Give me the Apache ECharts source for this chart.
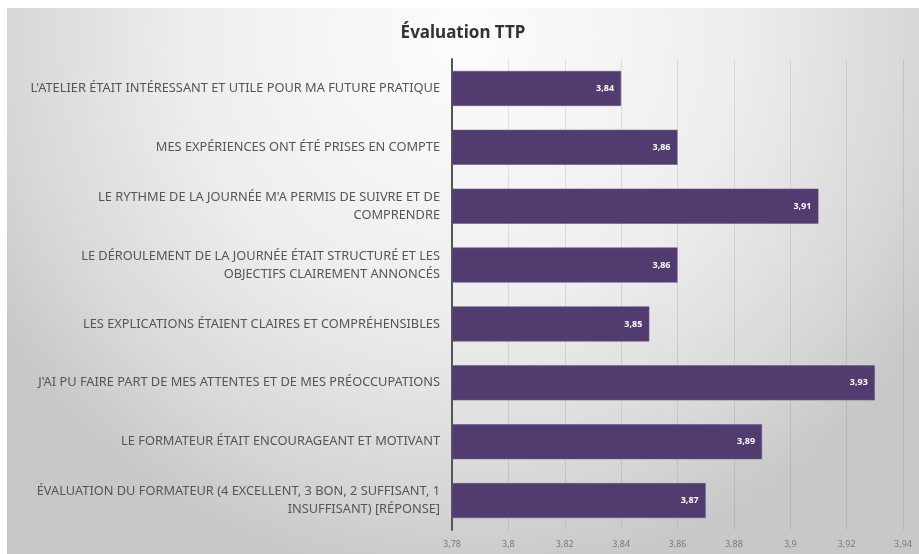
<!DOCTYPE html>
<html>
<head>
<meta charset="utf-8">
<script src="https://cdn.jsdelivr.net/npm/echarts@6/dist/echarts.min.js"></script>
<style>
  html, body { margin: 0; padding: 0; background: #ffffff; }
  #chart { position: absolute; left: 7px; top: 8px; width: 912px; height: 546px; }
</style>
</head>
<body>
<div id="chart"></div>
<script>
// questions (top to bottom)
var categories = [
  "L'ATELIER ÉTAIT INTÉRESSANT ET UTILE POUR MA FUTURE PRATIQUE",
  "MES EXPÉRIENCES ONT ÉTÉ PRISES EN COMPTE",
  "LE RYTHME DE LA JOURNÉE M'A PERMIS DE SUIVRE ET DE\nCOMPRENDRE",
  "LE DÉROULEMENT DE LA JOURNÉE ÉTAIT STRUCTURÉ ET LES\nOBJECTIFS CLAIREMENT ANNONCÉS",
  "LES EXPLICATIONS ÉTAIENT CLAIRES ET COMPRÉHENSIBLES",
  "J'AI PU FAIRE PART DE MES ATTENTES ET DE MES PRÉOCCUPATIONS",
  "LE FORMATEUR ÉTAIT ENCOURAGEANT ET MOTIVANT",
  "ÉVALUATION DU FORMATEUR (4 EXCELLENT, 3 BON, 2 SUFFISANT, 1\nINSUFFISANT) [RÉPONSE]"
];
var scores = [3.84, 3.86, 3.91, 3.86, 3.85, 3.93, 3.89, 3.87];
var axisMin = 3.78, axisMax = 3.94, axisStep = 0.02;

function frNum(v) {
  return String(+(+v).toFixed(2)).replace('.', ',');
}

var myChart = echarts.init(document.getElementById('chart'));
var option = {
  backgroundColor: {
    type: 'radial', x: 0.5, y: 0.05, r: 1.0,
    colorStops: [
      { offset: 0, color: '#fcfcfc' },
      { offset: 0.5, color: '#eeeeee' },
      { offset: 0.82, color: '#d8d8d8' },
      { offset: 1, color: '#c8c8c8' }
    ]
  },
  title: {
    text: 'Évaluation TTP',
    left: 'center',
    top: 12,
    textStyle: { fontFamily: 'Noto Sans', fontSize: 17, fontWeight: 'bold', color: '#333' }
  },
  grid: { left: 445, right: 16, top: 51, bottom: 24 },
  xAxis: {
    type: 'value',
    min: axisMin, max: axisMax, interval: axisStep,
    axisLine: { show: false },
    axisTick: { show: false },
    axisLabel: {
      formatter: frNum, color: '#7a7a7a', fontSize: 9,
      fontFamily: 'Noto Sans', margin: 10
    },
    splitLine: { lineStyle: { color: 'rgba(0,0,0,0.09)', width: 1 } }
  },
  yAxis: {
    type: 'category',
    inverse: true,
    data: categories,
    axisLine: { lineStyle: { color: '#555', width: 2 } },
    axisTick: { show: false },
    axisLabel: {
      color: '#555', fontSize: 12.8, fontFamily: 'Noto Sans',
      align: 'right', margin: 12, lineHeight: 18
    }
  },
  series: [{
    type: 'bar',
    data: scores,
    barWidth: 35,
    itemStyle: { color: '#523c6f', borderColor: '#6a5688', borderWidth: 0.6 },
    label: {
      show: true, position: 'insideRight', offset: [-2, 0],
      formatter: function (p) { return frNum(p.value); },
      color: '#fff', fontSize: 9, fontWeight: 'bold', fontFamily: 'Noto Sans'
    }
  }]
};
myChart.setOption(option);
</script>
</body>
</html>
